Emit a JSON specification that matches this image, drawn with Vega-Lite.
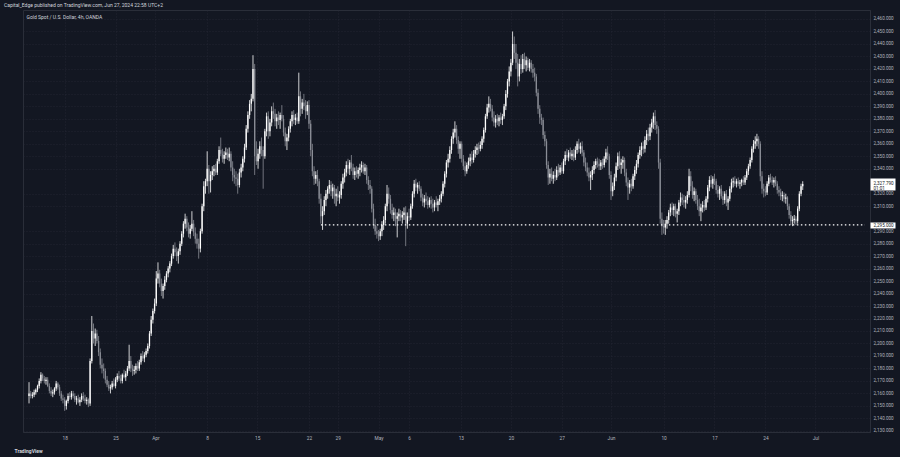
{
"$schema": "https://vega.github.io/schema/vega-lite/v6.json",
"autosize": {"type": "none"},
"width": 847,
"height": 422,
"padding": {"left": 23, "top": 10, "right": 30, "bottom": 25},
"background": "#131722",
"title": {"text": "Capital_Edge published on TradingView.com, Jun 27, 2024 22:58 UTC+2", "anchor": "start", "frame": "group", "dx": -19, "offset": 2, "fontSize": 5, "font": "Roboto", "fontWeight": "normal", "color": "#d1d4dc"},
"config": {
  "view": {"stroke": "#2a2e39", "fill": "#131722"},
  "font": "Roboto",
  "axis": {"labelOverlap": false}
},
"resolve": {"axis": {"y": "independent"}},
"datasets": {
"level": [{"p": 2295, "a": 172, "b": 492.7}],
"candles": [
{"i":0,"o":2158,"h":2169,"l":2152,"c":2160},
{"i":1,"o":2160,"h":2162,"l":2156,"c":2158},
{"i":2,"o":2158,"h":2161,"l":2156,"c":2159},
{"i":3,"o":2159,"h":2163,"l":2157,"c":2161},
{"i":4,"o":2161,"h":2164,"l":2159,"c":2163},
{"i":5,"o":2163,"h":2167,"l":2161,"c":2166},
{"i":6,"o":2166,"h":2172,"l":2164,"c":2170},
{"i":7,"o":2170,"h":2177,"l":2168,"c":2175},
{"i":8,"o":2175,"h":2176,"l":2170,"c":2172},
{"i":9,"o":2172,"h":2174,"l":2168,"c":2170},
{"i":10,"o":2170,"h":2173,"l":2167,"c":2171},
{"i":11,"o":2171,"h":2173,"l":2165,"c":2166},
{"i":12,"o":2166,"h":2168,"l":2160,"c":2162},
{"i":13,"o":2162,"h":2165,"l":2158,"c":2160},
{"i":14,"o":2160,"h":2163,"l":2157,"c":2161},
{"i":15,"o":2161,"h":2165,"l":2159,"c":2164},
{"i":16,"o":2164,"h":2170,"l":2162,"c":2168},
{"i":17,"o":2168,"h":2169,"l":2163,"c":2165},
{"i":18,"o":2165,"h":2167,"l":2158,"c":2160},
{"i":19,"o":2160,"h":2162,"l":2154,"c":2156},
{"i":20,"o":2156,"h":2159,"l":2152,"c":2155},
{"i":21,"o":2155,"h":2157,"l":2146,"c":2150},
{"i":22,"o":2150,"h":2155,"l":2147,"c":2154},
{"i":23,"o":2154,"h":2160,"l":2152,"c":2158},
{"i":24,"o":2158,"h":2161,"l":2155,"c":2157},
{"i":25,"o":2157,"h":2162,"l":2155,"c":2160},
{"i":26,"o":2160,"h":2162,"l":2156,"c":2158},
{"i":27,"o":2158,"h":2160,"l":2153,"c":2155},
{"i":28,"o":2155,"h":2158,"l":2151,"c":2156},
{"i":29,"o":2156,"h":2159,"l":2152,"c":2153},
{"i":30,"o":2153,"h":2157,"l":2150,"c":2155},
{"i":31,"o":2155,"h":2160,"l":2153,"c":2158},
{"i":32,"o":2158,"h":2161,"l":2154,"c":2156},
{"i":33,"o":2156,"h":2159,"l":2152,"c":2154},
{"i":34,"o":2154,"h":2157,"l":2151,"c":2155},
{"i":35,"o":2155,"h":2156,"l":2149,"c":2152},
{"i":36,"o":2152,"h":2188,"l":2150,"c":2186},
{"i":37,"o":2186,"h":2222,"l":2184,"c":2210},
{"i":38,"o":2210,"h":2216,"l":2200,"c":2204},
{"i":39,"o":2204,"h":2212,"l":2198,"c":2208},
{"i":40,"o":2208,"h":2211,"l":2200,"c":2202},
{"i":41,"o":2202,"h":2206,"l":2190,"c":2193},
{"i":42,"o":2193,"h":2196,"l":2180,"c":2183},
{"i":43,"o":2183,"h":2188,"l":2176,"c":2180},
{"i":44,"o":2180,"h":2184,"l":2172,"c":2178},
{"i":45,"o":2178,"h":2180,"l":2168,"c":2171},
{"i":46,"o":2171,"h":2174,"l":2165,"c":2167},
{"i":47,"o":2167,"h":2170,"l":2162,"c":2164},
{"i":48,"o":2164,"h":2167,"l":2160,"c":2165},
{"i":49,"o":2165,"h":2170,"l":2163,"c":2168},
{"i":50,"o":2168,"h":2172,"l":2165,"c":2166},
{"i":51,"o":2166,"h":2173,"l":2164,"c":2171},
{"i":52,"o":2171,"h":2176,"l":2169,"c":2174},
{"i":53,"o":2174,"h":2178,"l":2170,"c":2172},
{"i":54,"o":2172,"h":2175,"l":2168,"c":2170},
{"i":55,"o":2170,"h":2176,"l":2168,"c":2175},
{"i":56,"o":2175,"h":2179,"l":2172,"c":2173},
{"i":57,"o":2173,"h":2178,"l":2170,"c":2176},
{"i":58,"o":2176,"h":2182,"l":2174,"c":2180},
{"i":59,"o":2180,"h":2199,"l":2178,"c":2186},
{"i":60,"o":2186,"h":2190,"l":2177,"c":2180},
{"i":61,"o":2180,"h":2183,"l":2174,"c":2178},
{"i":62,"o":2178,"h":2182,"l":2175,"c":2179},
{"i":63,"o":2179,"h":2184,"l":2176,"c":2182},
{"i":64,"o":2182,"h":2186,"l":2178,"c":2180},
{"i":65,"o":2180,"h":2187,"l":2178,"c":2185},
{"i":66,"o":2185,"h":2192,"l":2183,"c":2190},
{"i":67,"o":2190,"h":2194,"l":2186,"c":2188},
{"i":68,"o":2188,"h":2193,"l":2185,"c":2191},
{"i":69,"o":2191,"h":2196,"l":2189,"c":2194},
{"i":70,"o":2194,"h":2200,"l":2192,"c":2198},
{"i":71,"o":2198,"h":2210,"l":2196,"c":2208},
{"i":72,"o":2208,"h":2222,"l":2206,"c":2219},
{"i":73,"o":2219,"h":2228,"l":2216,"c":2226},
{"i":74,"o":2226,"h":2236,"l":2224,"c":2232},
{"i":75,"o":2232,"h":2258,"l":2230,"c":2252},
{"i":76,"o":2252,"h":2265,"l":2248,"c":2256},
{"i":77,"o":2256,"h":2259,"l":2245,"c":2248},
{"i":78,"o":2248,"h":2252,"l":2238,"c":2242},
{"i":79,"o":2242,"h":2248,"l":2236,"c":2246},
{"i":80,"o":2246,"h":2254,"l":2243,"c":2251},
{"i":81,"o":2251,"h":2258,"l":2249,"c":2256},
{"i":82,"o":2256,"h":2262,"l":2253,"c":2260},
{"i":83,"o":2260,"h":2266,"l":2257,"c":2264},
{"i":84,"o":2264,"h":2272,"l":2262,"c":2270},
{"i":85,"o":2270,"h":2279,"l":2268,"c":2276},
{"i":86,"o":2276,"h":2281,"l":2270,"c":2273},
{"i":87,"o":2273,"h":2277,"l":2266,"c":2270},
{"i":88,"o":2270,"h":2276,"l":2264,"c":2274},
{"i":89,"o":2274,"h":2282,"l":2271,"c":2280},
{"i":90,"o":2280,"h":2290,"l":2278,"c":2288},
{"i":91,"o":2288,"h":2298,"l":2285,"c":2296},
{"i":92,"o":2296,"h":2304,"l":2292,"c":2300},
{"i":93,"o":2300,"h":2302,"l":2290,"c":2293},
{"i":94,"o":2293,"h":2297,"l":2285,"c":2288},
{"i":95,"o":2288,"h":2295,"l":2284,"c":2292},
{"i":96,"o":2292,"h":2306,"l":2290,"c":2296},
{"i":97,"o":2296,"h":2299,"l":2286,"c":2289},
{"i":98,"o":2289,"h":2293,"l":2280,"c":2284},
{"i":99,"o":2284,"h":2288,"l":2276,"c":2280},
{"i":100,"o":2280,"h":2284,"l":2268,"c":2276},
{"i":101,"o":2276,"h":2292,"l":2273,"c":2290},
{"i":102,"o":2290,"h":2312,"l":2288,"c":2310},
{"i":103,"o":2310,"h":2330,"l":2306,"c":2326},
{"i":104,"o":2326,"h":2332,"l":2320,"c":2330},
{"i":105,"o":2330,"h":2354,"l":2326,"c":2340},
{"i":106,"o":2340,"h":2343,"l":2320,"c":2330},
{"i":107,"o":2330,"h":2338,"l":2321,"c":2335},
{"i":108,"o":2335,"h":2342,"l":2331,"c":2338},
{"i":109,"o":2338,"h":2343,"l":2334,"c":2340},
{"i":110,"o":2340,"h":2344,"l":2335,"c":2337},
{"i":111,"o":2337,"h":2348,"l":2335,"c":2346},
{"i":112,"o":2346,"h":2358,"l":2344,"c":2355},
{"i":113,"o":2355,"h":2365,"l":2350,"c":2352},
{"i":114,"o":2352,"h":2356,"l":2345,"c":2348},
{"i":115,"o":2348,"h":2354,"l":2344,"c":2351},
{"i":116,"o":2351,"h":2357,"l":2348,"c":2353},
{"i":117,"o":2353,"h":2356,"l":2347,"c":2349},
{"i":118,"o":2349,"h":2357,"l":2346,"c":2352},
{"i":119,"o":2352,"h":2354,"l":2338,"c":2341},
{"i":120,"o":2341,"h":2346,"l":2330,"c":2335},
{"i":121,"o":2335,"h":2340,"l":2328,"c":2333},
{"i":122,"o":2333,"h":2338,"l":2326,"c":2332},
{"i":123,"o":2332,"h":2336,"l":2320,"c":2327},
{"i":124,"o":2327,"h":2340,"l":2325,"c":2337},
{"i":125,"o":2337,"h":2344,"l":2333,"c":2341},
{"i":126,"o":2341,"h":2350,"l":2338,"c":2348},
{"i":127,"o":2348,"h":2360,"l":2345,"c":2357},
{"i":128,"o":2357,"h":2375,"l":2355,"c":2372},
{"i":129,"o":2372,"h":2386,"l":2369,"c":2383},
{"i":130,"o":2383,"h":2395,"l":2380,"c":2392},
{"i":131,"o":2392,"h":2400,"l":2386,"c":2396},
{"i":132,"o":2396,"h":2431,"l":2394,"c":2420},
{"i":133,"o":2420,"h":2424,"l":2335,"c":2350},
{"i":134,"o":2350,"h":2362,"l":2343,"c":2346},
{"i":135,"o":2346,"h":2356,"l":2340,"c":2352},
{"i":136,"o":2352,"h":2362,"l":2348,"c":2358},
{"i":137,"o":2358,"h":2365,"l":2350,"c":2355},
{"i":138,"o":2355,"h":2358,"l":2324,"c":2350},
{"i":139,"o":2350,"h":2372,"l":2348,"c":2370},
{"i":140,"o":2370,"h":2385,"l":2366,"c":2382},
{"i":141,"o":2382,"h":2386,"l":2364,"c":2370},
{"i":142,"o":2370,"h":2380,"l":2366,"c":2377},
{"i":143,"o":2377,"h":2390,"l":2374,"c":2386},
{"i":144,"o":2386,"h":2393,"l":2380,"c":2384},
{"i":145,"o":2384,"h":2388,"l":2374,"c":2378},
{"i":146,"o":2378,"h":2384,"l":2372,"c":2381},
{"i":147,"o":2381,"h":2386,"l":2375,"c":2379},
{"i":148,"o":2379,"h":2385,"l":2372,"c":2383},
{"i":149,"o":2383,"h":2391,"l":2378,"c":2380},
{"i":150,"o":2380,"h":2383,"l":2366,"c":2369},
{"i":151,"o":2369,"h":2373,"l":2358,"c":2362},
{"i":152,"o":2362,"h":2368,"l":2355,"c":2365},
{"i":153,"o":2365,"h":2374,"l":2362,"c":2372},
{"i":154,"o":2372,"h":2380,"l":2369,"c":2378},
{"i":155,"o":2378,"h":2386,"l":2374,"c":2383},
{"i":156,"o":2383,"h":2387,"l":2376,"c":2379},
{"i":157,"o":2379,"h":2384,"l":2375,"c":2381},
{"i":158,"o":2381,"h":2385,"l":2376,"c":2378},
{"i":159,"o":2378,"h":2417,"l":2376,"c":2398},
{"i":160,"o":2398,"h":2402,"l":2382,"c":2388},
{"i":161,"o":2388,"h":2396,"l":2384,"c":2393},
{"i":162,"o":2393,"h":2400,"l":2387,"c":2390},
{"i":163,"o":2390,"h":2395,"l":2380,"c":2386},
{"i":164,"o":2386,"h":2394,"l":2383,"c":2391},
{"i":165,"o":2391,"h":2395,"l":2372,"c":2376},
{"i":166,"o":2376,"h":2379,"l":2350,"c":2355},
{"i":167,"o":2355,"h":2360,"l":2334,"c":2338},
{"i":168,"o":2338,"h":2342,"l":2327,"c":2332},
{"i":169,"o":2332,"h":2338,"l":2328,"c":2335},
{"i":170,"o":2335,"h":2339,"l":2326,"c":2330},
{"i":171,"o":2330,"h":2332,"l":2312,"c":2316},
{"i":172,"o":2316,"h":2320,"l":2296,"c":2302},
{"i":173,"o":2302,"h":2310,"l":2291,"c":2306},
{"i":174,"o":2306,"h":2318,"l":2303,"c":2315},
{"i":175,"o":2315,"h":2323,"l":2310,"c":2320},
{"i":176,"o":2320,"h":2326,"l":2316,"c":2324},
{"i":177,"o":2324,"h":2331,"l":2320,"c":2327},
{"i":178,"o":2327,"h":2330,"l":2318,"c":2322},
{"i":179,"o":2322,"h":2328,"l":2316,"c":2325},
{"i":180,"o":2325,"h":2327,"l":2312,"c":2318},
{"i":181,"o":2318,"h":2324,"l":2310,"c":2320},
{"i":182,"o":2320,"h":2326,"l":2314,"c":2317},
{"i":183,"o":2317,"h":2322,"l":2312,"c":2319},
{"i":184,"o":2319,"h":2330,"l":2316,"c":2328},
{"i":185,"o":2328,"h":2336,"l":2324,"c":2333},
{"i":186,"o":2333,"h":2340,"l":2329,"c":2337},
{"i":187,"o":2337,"h":2346,"l":2334,"c":2343},
{"i":188,"o":2343,"h":2348,"l":2336,"c":2340},
{"i":189,"o":2340,"h":2347,"l":2335,"c":2345},
{"i":190,"o":2345,"h":2351,"l":2338,"c":2341},
{"i":191,"o":2341,"h":2344,"l":2332,"c":2335},
{"i":192,"o":2335,"h":2341,"l":2331,"c":2338},
{"i":193,"o":2338,"h":2342,"l":2333,"c":2336},
{"i":194,"o":2336,"h":2341,"l":2332,"c":2339},
{"i":195,"o":2339,"h":2344,"l":2334,"c":2341},
{"i":196,"o":2341,"h":2346,"l":2337,"c":2343},
{"i":197,"o":2343,"h":2345,"l":2336,"c":2338},
{"i":198,"o":2338,"h":2344,"l":2335,"c":2341},
{"i":199,"o":2341,"h":2343,"l":2328,"c":2331},
{"i":200,"o":2331,"h":2334,"l":2323,"c":2327},
{"i":201,"o":2327,"h":2331,"l":2320,"c":2324},
{"i":202,"o":2324,"h":2326,"l":2305,"c":2308},
{"i":203,"o":2308,"h":2312,"l":2292,"c":2295},
{"i":204,"o":2295,"h":2300,"l":2287,"c":2290},
{"i":205,"o":2290,"h":2294,"l":2284,"c":2288},
{"i":206,"o":2288,"h":2291,"l":2282,"c":2286},
{"i":207,"o":2286,"h":2292,"l":2283,"c":2290},
{"i":208,"o":2290,"h":2298,"l":2286,"c":2295},
{"i":209,"o":2295,"h":2302,"l":2291,"c":2299},
{"i":210,"o":2299,"h":2312,"l":2296,"c":2310},
{"i":211,"o":2310,"h":2327,"l":2306,"c":2320},
{"i":212,"o":2320,"h":2325,"l":2312,"c":2316},
{"i":213,"o":2316,"h":2319,"l":2304,"c":2307},
{"i":214,"o":2307,"h":2312,"l":2300,"c":2303},
{"i":215,"o":2303,"h":2309,"l":2298,"c":2305},
{"i":216,"o":2305,"h":2308,"l":2294,"c":2300},
{"i":217,"o":2300,"h":2305,"l":2285,"c":2302},
{"i":218,"o":2302,"h":2308,"l":2298,"c":2304},
{"i":219,"o":2304,"h":2307,"l":2298,"c":2301},
{"i":220,"o":2301,"h":2306,"l":2296,"c":2303},
{"i":221,"o":2303,"h":2309,"l":2299,"c":2305},
{"i":222,"o":2305,"h":2310,"l":2278,"c":2296},
{"i":223,"o":2296,"h":2305,"l":2292,"c":2302},
{"i":224,"o":2302,"h":2308,"l":2298,"c":2301},
{"i":225,"o":2301,"h":2312,"l":2299,"c":2310},
{"i":226,"o":2310,"h":2322,"l":2308,"c":2320},
{"i":227,"o":2320,"h":2331,"l":2317,"c":2328},
{"i":228,"o":2328,"h":2332,"l":2322,"c":2325},
{"i":229,"o":2325,"h":2329,"l":2320,"c":2327},
{"i":230,"o":2327,"h":2330,"l":2322,"c":2324},
{"i":231,"o":2324,"h":2326,"l":2314,"c":2317},
{"i":232,"o":2317,"h":2320,"l":2310,"c":2313},
{"i":233,"o":2313,"h":2319,"l":2309,"c":2316},
{"i":234,"o":2316,"h":2321,"l":2311,"c":2314},
{"i":235,"o":2314,"h":2318,"l":2308,"c":2311},
{"i":236,"o":2311,"h":2317,"l":2309,"c":2315},
{"i":237,"o":2315,"h":2318,"l":2308,"c":2312},
{"i":238,"o":2312,"h":2316,"l":2305,"c":2309},
{"i":239,"o":2309,"h":2315,"l":2306,"c":2313},
{"i":240,"o":2313,"h":2318,"l":2309,"c":2311},
{"i":241,"o":2311,"h":2316,"l":2306,"c":2314},
{"i":242,"o":2314,"h":2319,"l":2311,"c":2316},
{"i":243,"o":2316,"h":2322,"l":2313,"c":2320},
{"i":244,"o":2320,"h":2330,"l":2318,"c":2328},
{"i":245,"o":2328,"h":2338,"l":2325,"c":2336},
{"i":246,"o":2336,"h":2347,"l":2333,"c":2345},
{"i":247,"o":2345,"h":2352,"l":2341,"c":2348},
{"i":248,"o":2348,"h":2358,"l":2345,"c":2355},
{"i":249,"o":2355,"h":2366,"l":2352,"c":2364},
{"i":250,"o":2364,"h":2372,"l":2360,"c":2369},
{"i":251,"o":2369,"h":2378,"l":2365,"c":2372},
{"i":252,"o":2372,"h":2375,"l":2360,"c":2363},
{"i":253,"o":2363,"h":2366,"l":2352,"c":2356},
{"i":254,"o":2356,"h":2362,"l":2348,"c":2360},
{"i":255,"o":2360,"h":2362,"l":2345,"c":2348},
{"i":256,"o":2348,"h":2351,"l":2339,"c":2342},
{"i":257,"o":2342,"h":2346,"l":2334,"c":2338},
{"i":258,"o":2338,"h":2345,"l":2336,"c":2343},
{"i":259,"o":2343,"h":2349,"l":2340,"c":2346},
{"i":260,"o":2346,"h":2352,"l":2342,"c":2349},
{"i":261,"o":2349,"h":2354,"l":2344,"c":2347},
{"i":262,"o":2347,"h":2355,"l":2345,"c":2352},
{"i":263,"o":2352,"h":2358,"l":2349,"c":2355},
{"i":264,"o":2355,"h":2360,"l":2351,"c":2357},
{"i":265,"o":2357,"h":2361,"l":2352,"c":2356},
{"i":266,"o":2356,"h":2362,"l":2354,"c":2359},
{"i":267,"o":2359,"h":2366,"l":2356,"c":2364},
{"i":268,"o":2364,"h":2373,"l":2361,"c":2371},
{"i":269,"o":2371,"h":2384,"l":2369,"c":2382},
{"i":270,"o":2382,"h":2392,"l":2380,"c":2389},
{"i":271,"o":2389,"h":2398,"l":2385,"c":2392},
{"i":272,"o":2392,"h":2396,"l":2386,"c":2388},
{"i":273,"o":2388,"h":2391,"l":2378,"c":2381},
{"i":274,"o":2381,"h":2386,"l":2374,"c":2377},
{"i":275,"o":2377,"h":2383,"l":2373,"c":2380},
{"i":276,"o":2380,"h":2384,"l":2375,"c":2378},
{"i":277,"o":2378,"h":2383,"l":2374,"c":2381},
{"i":278,"o":2381,"h":2385,"l":2376,"c":2379},
{"i":279,"o":2379,"h":2384,"l":2375,"c":2382},
{"i":280,"o":2382,"h":2392,"l":2380,"c":2390},
{"i":281,"o":2390,"h":2403,"l":2387,"c":2400},
{"i":282,"o":2400,"h":2412,"l":2397,"c":2410},
{"i":283,"o":2410,"h":2422,"l":2406,"c":2418},
{"i":284,"o":2418,"h":2428,"l":2414,"c":2425},
{"i":285,"o":2425,"h":2450,"l":2423,"c":2440},
{"i":286,"o":2440,"h":2446,"l":2428,"c":2433},
{"i":287,"o":2433,"h":2440,"l":2420,"c":2425},
{"i":288,"o":2425,"h":2432,"l":2406,"c":2414},
{"i":289,"o":2414,"h":2428,"l":2410,"c":2424},
{"i":290,"o":2424,"h":2431,"l":2416,"c":2420},
{"i":291,"o":2420,"h":2432,"l":2417,"c":2428},
{"i":292,"o":2428,"h":2433,"l":2420,"c":2423},
{"i":293,"o":2423,"h":2430,"l":2418,"c":2427},
{"i":294,"o":2427,"h":2429,"l":2419,"c":2421},
{"i":295,"o":2421,"h":2428,"l":2418,"c":2425},
{"i":296,"o":2425,"h":2427,"l":2417,"c":2420},
{"i":297,"o":2420,"h":2424,"l":2413,"c":2417},
{"i":298,"o":2417,"h":2421,"l":2410,"c":2414},
{"i":299,"o":2414,"h":2416,"l":2398,"c":2401},
{"i":300,"o":2401,"h":2404,"l":2384,"c":2388},
{"i":301,"o":2388,"h":2391,"l":2376,"c":2381},
{"i":302,"o":2381,"h":2384,"l":2375,"c":2379},
{"i":303,"o":2379,"h":2381,"l":2364,"c":2367},
{"i":304,"o":2367,"h":2370,"l":2358,"c":2362},
{"i":305,"o":2362,"h":2364,"l":2340,"c":2343},
{"i":306,"o":2343,"h":2346,"l":2327,"c":2333},
{"i":307,"o":2333,"h":2340,"l":2328,"c":2336},
{"i":308,"o":2336,"h":2341,"l":2330,"c":2332},
{"i":309,"o":2332,"h":2338,"l":2328,"c":2335},
{"i":310,"o":2335,"h":2340,"l":2330,"c":2333},
{"i":311,"o":2333,"h":2342,"l":2331,"c":2339},
{"i":312,"o":2339,"h":2344,"l":2334,"c":2337},
{"i":313,"o":2337,"h":2343,"l":2335,"c":2341},
{"i":314,"o":2341,"h":2345,"l":2336,"c":2338},
{"i":315,"o":2338,"h":2348,"l":2336,"c":2346},
{"i":316,"o":2346,"h":2354,"l":2343,"c":2351},
{"i":317,"o":2351,"h":2356,"l":2347,"c":2349},
{"i":318,"o":2349,"h":2355,"l":2346,"c":2353},
{"i":319,"o":2353,"h":2357,"l":2348,"c":2350},
{"i":320,"o":2350,"h":2355,"l":2347,"c":2352},
{"i":321,"o":2352,"h":2356,"l":2346,"c":2349},
{"i":322,"o":2349,"h":2358,"l":2347,"c":2355},
{"i":323,"o":2355,"h":2362,"l":2352,"c":2360},
{"i":324,"o":2360,"h":2364,"l":2353,"c":2356},
{"i":325,"o":2356,"h":2361,"l":2352,"c":2358},
{"i":326,"o":2358,"h":2362,"l":2350,"c":2353},
{"i":327,"o":2353,"h":2355,"l":2342,"c":2345},
{"i":328,"o":2345,"h":2349,"l":2338,"c":2341},
{"i":329,"o":2341,"h":2345,"l":2334,"c":2337},
{"i":330,"o":2337,"h":2341,"l":2330,"c":2333},
{"i":331,"o":2333,"h":2338,"l":2323,"c":2335},
{"i":332,"o":2335,"h":2342,"l":2331,"c":2339},
{"i":333,"o":2339,"h":2346,"l":2336,"c":2343},
{"i":334,"o":2343,"h":2348,"l":2340,"c":2346},
{"i":335,"o":2346,"h":2349,"l":2341,"c":2344},
{"i":336,"o":2344,"h":2348,"l":2339,"c":2342},
{"i":337,"o":2342,"h":2347,"l":2339,"c":2345},
{"i":338,"o":2345,"h":2348,"l":2340,"c":2343},
{"i":339,"o":2343,"h":2350,"l":2341,"c":2348},
{"i":340,"o":2348,"h":2356,"l":2345,"c":2353},
{"i":341,"o":2353,"h":2358,"l":2347,"c":2350},
{"i":342,"o":2350,"h":2352,"l":2332,"c":2335},
{"i":343,"o":2335,"h":2338,"l":2315,"c":2322},
{"i":344,"o":2322,"h":2329,"l":2318,"c":2326},
{"i":345,"o":2326,"h":2336,"l":2323,"c":2333},
{"i":346,"o":2333,"h":2345,"l":2330,"c":2342},
{"i":347,"o":2342,"h":2353,"l":2339,"c":2350},
{"i":348,"o":2350,"h":2354,"l":2340,"c":2343},
{"i":349,"o":2343,"h":2348,"l":2336,"c":2345},
{"i":350,"o":2345,"h":2350,"l":2340,"c":2347},
{"i":351,"o":2347,"h":2349,"l":2334,"c":2337},
{"i":352,"o":2337,"h":2340,"l":2326,"c":2329},
{"i":353,"o":2329,"h":2333,"l":2315,"c":2325},
{"i":354,"o":2325,"h":2331,"l":2320,"c":2328},
{"i":355,"o":2328,"h":2332,"l":2322,"c":2326},
{"i":356,"o":2326,"h":2336,"l":2324,"c":2334},
{"i":357,"o":2334,"h":2342,"l":2331,"c":2339},
{"i":358,"o":2339,"h":2347,"l":2336,"c":2344},
{"i":359,"o":2344,"h":2353,"l":2341,"c":2351},
{"i":360,"o":2351,"h":2358,"l":2348,"c":2355},
{"i":361,"o":2355,"h":2361,"l":2350,"c":2358},
{"i":362,"o":2358,"h":2362,"l":2352,"c":2356},
{"i":363,"o":2356,"h":2366,"l":2353,"c":2363},
{"i":364,"o":2363,"h":2371,"l":2359,"c":2368},
{"i":365,"o":2368,"h":2373,"l":2362,"c":2366},
{"i":366,"o":2366,"h":2376,"l":2363,"c":2373},
{"i":367,"o":2373,"h":2380,"l":2369,"c":2377},
{"i":368,"o":2377,"h":2385,"l":2372,"c":2382},
{"i":369,"o":2382,"h":2387,"l":2371,"c":2375},
{"i":370,"o":2375,"h":2378,"l":2368,"c":2372},
{"i":371,"o":2372,"h":2374,"l":2340,"c":2345},
{"i":372,"o":2345,"h":2348,"l":2296,"c":2300},
{"i":373,"o":2300,"h":2305,"l":2287,"c":2294},
{"i":374,"o":2294,"h":2299,"l":2288,"c":2293},
{"i":375,"o":2293,"h":2299,"l":2287,"c":2296},
{"i":376,"o":2296,"h":2302,"l":2292,"c":2299},
{"i":377,"o":2299,"h":2307,"l":2296,"c":2305},
{"i":378,"o":2305,"h":2312,"l":2302,"c":2309},
{"i":379,"o":2309,"h":2313,"l":2303,"c":2307},
{"i":380,"o":2307,"h":2312,"l":2302,"c":2310},
{"i":381,"o":2310,"h":2312,"l":2301,"c":2304},
{"i":382,"o":2304,"h":2308,"l":2297,"c":2306},
{"i":383,"o":2306,"h":2315,"l":2303,"c":2313},
{"i":384,"o":2313,"h":2321,"l":2310,"c":2317},
{"i":385,"o":2317,"h":2320,"l":2311,"c":2315},
{"i":386,"o":2315,"h":2319,"l":2309,"c":2313},
{"i":387,"o":2313,"h":2318,"l":2308,"c":2315},
{"i":388,"o":2315,"h":2322,"l":2312,"c":2319},
{"i":389,"o":2319,"h":2340,"l":2317,"c":2334},
{"i":390,"o":2334,"h":2338,"l":2322,"c":2326},
{"i":391,"o":2326,"h":2330,"l":2316,"c":2319},
{"i":392,"o":2319,"h":2325,"l":2314,"c":2322},
{"i":393,"o":2322,"h":2324,"l":2312,"c":2315},
{"i":394,"o":2315,"h":2319,"l":2307,"c":2310},
{"i":395,"o":2310,"h":2316,"l":2302,"c":2306},
{"i":396,"o":2306,"h":2312,"l":2298,"c":2309},
{"i":397,"o":2309,"h":2314,"l":2305,"c":2311},
{"i":398,"o":2311,"h":2315,"l":2306,"c":2309},
{"i":399,"o":2309,"h":2318,"l":2307,"c":2316},
{"i":400,"o":2316,"h":2327,"l":2313,"c":2325},
{"i":401,"o":2325,"h":2334,"l":2322,"c":2331},
{"i":402,"o":2331,"h":2335,"l":2325,"c":2328},
{"i":403,"o":2328,"h":2334,"l":2324,"c":2332},
{"i":404,"o":2332,"h":2336,"l":2327,"c":2330},
{"i":405,"o":2330,"h":2332,"l":2320,"c":2323},
{"i":406,"o":2323,"h":2327,"l":2317,"c":2320},
{"i":407,"o":2320,"h":2326,"l":2315,"c":2324},
{"i":408,"o":2324,"h":2327,"l":2316,"c":2318},
{"i":409,"o":2318,"h":2322,"l":2311,"c":2315},
{"i":410,"o":2315,"h":2322,"l":2312,"c":2320},
{"i":411,"o":2320,"h":2323,"l":2310,"c":2313},
{"i":412,"o":2313,"h":2318,"l":2307,"c":2316},
{"i":413,"o":2316,"h":2326,"l":2314,"c":2324},
{"i":414,"o":2324,"h":2332,"l":2321,"c":2329},
{"i":415,"o":2329,"h":2333,"l":2325,"c":2330},
{"i":416,"o":2330,"h":2334,"l":2326,"c":2328},
{"i":417,"o":2328,"h":2332,"l":2325,"c":2330},
{"i":418,"o":2330,"h":2333,"l":2326,"c":2328},
{"i":419,"o":2328,"h":2331,"l":2324,"c":2329},
{"i":420,"o":2329,"h":2332,"l":2326,"c":2331},
{"i":421,"o":2331,"h":2334,"l":2327,"c":2329},
{"i":422,"o":2329,"h":2335,"l":2327,"c":2333},
{"i":423,"o":2333,"h":2340,"l":2331,"c":2338},
{"i":424,"o":2338,"h":2344,"l":2335,"c":2342},
{"i":425,"o":2342,"h":2349,"l":2340,"c":2347},
{"i":426,"o":2347,"h":2358,"l":2345,"c":2356},
{"i":427,"o":2356,"h":2363,"l":2353,"c":2360},
{"i":428,"o":2360,"h":2366,"l":2356,"c":2362},
{"i":429,"o":2362,"h":2368,"l":2358,"c":2364},
{"i":430,"o":2364,"h":2366,"l":2356,"c":2360},
{"i":431,"o":2360,"h":2362,"l":2330,"c":2334},
{"i":432,"o":2334,"h":2338,"l":2320,"c":2324},
{"i":433,"o":2324,"h":2328,"l":2317,"c":2322},
{"i":434,"o":2322,"h":2326,"l":2318,"c":2321},
{"i":435,"o":2321,"h":2330,"l":2319,"c":2328},
{"i":436,"o":2328,"h":2335,"l":2326,"c":2333},
{"i":437,"o":2333,"h":2336,"l":2329,"c":2331},
{"i":438,"o":2331,"h":2334,"l":2327,"c":2329},
{"i":439,"o":2329,"h":2333,"l":2325,"c":2331},
{"i":440,"o":2331,"h":2334,"l":2326,"c":2328},
{"i":441,"o":2328,"h":2330,"l":2320,"c":2323},
{"i":442,"o":2323,"h":2326,"l":2318,"c":2321},
{"i":443,"o":2321,"h":2324,"l":2315,"c":2318},
{"i":444,"o":2318,"h":2322,"l":2314,"c":2319},
{"i":445,"o":2319,"h":2321,"l":2313,"c":2316},
{"i":446,"o":2316,"h":2320,"l":2312,"c":2317},
{"i":447,"o":2317,"h":2318,"l":2307,"c":2310},
{"i":448,"o":2310,"h":2312,"l":2300,"c":2303},
{"i":449,"o":2303,"h":2306,"l":2295,"c":2298},
{"i":450,"o":2298,"h":2302,"l":2294,"c":2299},
{"i":451,"o":2299,"h":2303,"l":2296,"c":2300},
{"i":452,"o":2300,"h":2302,"l":2295,"c":2298},
{"i":453,"o":2298,"h":2310,"l":2296,"c":2308},
{"i":454,"o":2308,"h":2322,"l":2306,"c":2320},
{"i":455,"o":2320,"h":2328,"l":2318,"c":2326},
{"i":456,"o":2326,"h":2330,"l":2323,"c":2327.79}
]
},
"data": {"name": "candles"},
"layer": [
{
  "mark": {"type": "rule", "strokeWidth": 0.8},
  "encoding": {
    "x": {"field": "i", "type": "quantitative",
      "scale": {"domain": [-0.6, 492.7], "nice": false, "zero": false},
      "axis": {
        "title": "TradingView", "titleX": -9, "titleY": 18, "titleAlign": "left", "titleBaseline": "middle",
        "titleFontSize": 5, "titleFontWeight": "bold", "titleColor": "#d1d4dc", "titleFont": "Roboto",
        "values": [21, 51, 74.5, 105, 134.5, 165, 182, 206, 224, 254.5, 284, 314, 343, 374, 404, 434, 463.5],
        "labelExpr": "datum.value == 21 ? '18' : datum.value == 51 ? '25' : datum.value == 74.5 ? 'Apr' : datum.value == 105 ? '8' : datum.value == 134.5 ? '15' : datum.value == 165 ? '22' : datum.value == 182 ? '29' : datum.value == 206 ? 'May' : datum.value == 224 ? '6' : datum.value == 254.5 ? '13' : datum.value == 284 ? '20' : datum.value == 314 ? '27' : datum.value == 343 ? 'Jun' : datum.value == 374 ? '10' : datum.value == 404 ? '17' : datum.value == 434 ? '24' : 'Jul'",
        "labelFontSize": 4.8, "labelColor": "#b2b5be", "labelPadding": 3.5, "labelFont": "Roboto", "labelOverlap": false,
        "ticks": false, "domainColor": "#2a2e39", "domainWidth": 1,
        "grid": true, "gridColor": "#2a2e39", "gridDash": [1, 2], "gridWidth": 0.7, "gridOpacity": 0.9
      }
    },
    "y": {"field": "l", "type": "quantitative",
      "scale": {"domain": [2129.07, 2467.21], "nice": false, "zero": false},
      "axis": {
        "orient": "right",
        "title": "Gold Spot / U.S. Dollar, 4h, OANDA", "titleAngle": 0, "titleX": -844, "titleY": 6,
        "titleAlign": "left", "titleBaseline": "middle", "titleFontSize": 5, "titleFontWeight": "normal",
        "titleColor": "#d1d4dc", "titleFont": "Roboto",
        "values": [2130,2140,2150,2160,2170,2180,2190,2200,2210,2220,2230,2240,2250,2260,2270,2280,2290,2310,2320,2340,2350,2360,2370,2380,2390,2400,2410,2420,2430,2440,2450,2460],
        "format": ",.3f",
        "labelFontSize": 4.6, "labelFont": "Roboto", "labelOverlap": false, "labelColor": "#b2b5be",
        "labelPadding": 3, "ticks": false,
        "domainColor": "#2a2e39", "domainWidth": 1,
        "grid": true, "gridColor": "#2a2e39", "gridDash": [1, 2], "gridWidth": 0.7, "gridOpacity": 0.9
      }
    },
    "y2": {"field": "h"},
    "color": {"condition": {"test": "datum.c >= datum.o", "value": "#ffffff"}, "value": "#8a8d96"}
  }
},
{
  "mark": {"type": "bar", "width": 1.3},
  "encoding": {
    "x": {"field": "i", "type": "quantitative"},
    "y": {"field": "o", "type": "quantitative", "axis": null},
    "y2": {"field": "c"},
    "color": {"condition": {"test": "datum.c >= datum.o", "value": "#ffffff"}, "value": "#8a8d96"}
  }
},
{
  "data": {"name": "level"},
  "mark": {"type": "rule", "strokeDash": [1.5, 2.5], "strokeWidth": 1.2, "color": "#ffffff"},
  "encoding": {
    "x": {"field": "a", "type": "quantitative"},
    "x2": {"field": "b"},
    "y": {"field": "p", "type": "quantitative",
      "axis": {
        "orient": "right", "title": null, "domain": false, "grid": false,
        "values": [2295, 2327.79],
        "labelExpr": "datum.value > 2300 ? ['2,327.790', '01:01'] : '2,295.000'",
        "labelFontSize": 4.6, "labelFont": "Roboto", "labelColor": "#131722", "labelOverlap": false,
        "labelBaseline": "top", "labelLineHeight": 5, "labelAlign": "left",
        "labelOffset": {"condition": {"test": "datum.value > 2300", "value": -3.5}, "value": -2.3},
        "labelPadding": -22,
        "ticks": true, "tickSize": 25, "tickColor": "#ffffff",
        "tickWidth": {"condition": {"test": "datum.value > 2300", "value": 12}, "value": 6}
      }
    }
  }
}
]
}
